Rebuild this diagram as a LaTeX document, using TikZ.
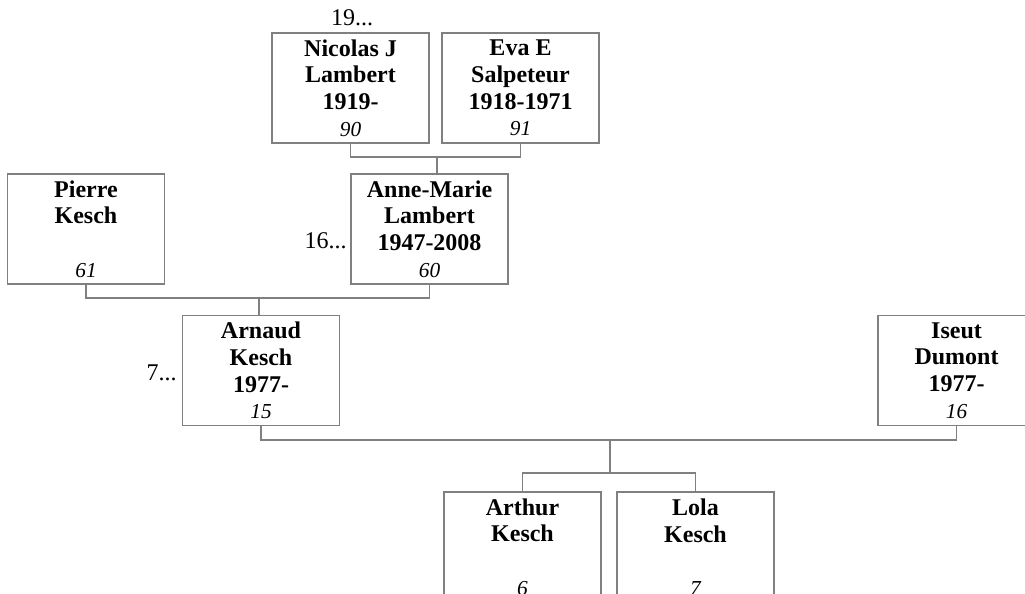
\documentclass[tikz,border=0pt]{standalone}
\usepackage{fontspec}
\setmainfont{Liberation Serif}
\definecolor{boxgray}{RGB}{128,128,128}
\newcommand{\refno}[1]{{\fontsize{16}{19}\selectfont\mdseries\itshape #1}}

\begin{document}
\begin{tikzpicture}[x=0.75pt,y=-0.75pt,
    person/.style={rectangle, draw=boxgray, line width=1.1pt, minimum width=117.75pt,
      minimum height=82.5pt, align=center, inner sep=0pt,
      font=\fontsize{18}{20}\selectfont\bfseries},
    link/.style={draw=boxgray, line width=1.1pt},
    more/.style={inner sep=0pt, font=\fontsize{18}{20}\selectfont}]
      \useasboundingbox (0,0) rectangle (1025,593);
      \fill[white] (0,0) rectangle (1025,593);
      \clip (0,0) rectangle (1025,593);

      \node at (350.5,88)  [person] (nicolas) {Nicolas J\\Lambert\\1919-\\\refno{90}};
      \node at (520.5,88)  [person] (eva)     {Eva E\\Salpeteur\\1918-1971\\\refno{91}};
      \node at (352,25) [more, anchor=base] (gen19) {19...};
      \coordinate (nl) at (437,157);
      \draw[link] (nicolas.south) |- (nl) -| (eva.south);
      \draw[link] (nl) -- (nl |- 0,173);


      \node at (86,229)    [person] (pierre)  {Pierre\\Kesch\\~\\\refno{61}};
      \node at (429.5,229) [person] (anne)    {Anne-Marie\\Lambert\\1947-2008\\\refno{60}};
      \node at (347,248) [more, anchor=base east] (gen16) {16...};
      \coordinate (pa) at (259,298);
      \draw[link] (pierre.south) |- (pa) -| (anne.south);
      \draw[link] (pa) -- (pa |- 0,315);

      \node at (261,370.5)   [person] (arnaud) {Arnaud\\Kesch\\1977-\\\refno{15}};
      \node at (956.5,370.5) [person] (iseut)  {Iseut\\Dumont\\1977-\\\refno{16}};
      \node at (177,380) [more, anchor=base east] (gen7) {7...};
      \coordinate (ai) at (610,440);
      \coordinate (kids) at (610,473);
      \draw[link] (arnaud.south) |- (ai) -| (iseut.south);
      \draw[link] (ai) -- (kids);

      \node at (522.5,547) [person] (arthur) {Arthur\\Kesch\\~\\\refno{6}};
      \node at (695.5,547) [person] (lola)   {Lola\\Kesch\\~\\\refno{7}};
      \draw[link] (arthur.north) |- (kids) -| (lola.north);
    \end{tikzpicture}
\end{document}
